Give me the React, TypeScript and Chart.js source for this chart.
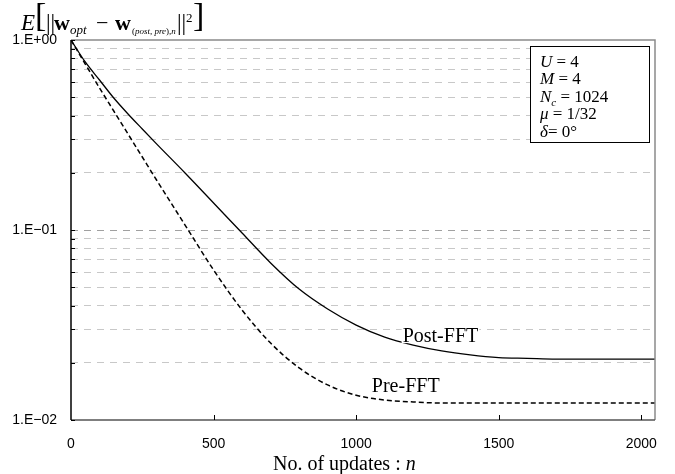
import React, { useEffect, useRef } from "react";
import { Chart, registerables } from "chart.js";

Chart.register(...registerables);

// ---- data ----
const nValues = [0, 50, 100, 150, 200, 250, 300, 400, 500, 600, 700, 800, 900, 1000, 1100, 1200, 1300, 1400, 1500, 1600, 1700, 1800, 1900, 2000, 2048];
const postFFT = [1.0, 0.766, 0.616, 0.495, 0.408, 0.34, 0.284, 0.1995, 0.1387, 0.0964, 0.0671, 0.0489, 0.0384, 0.0316, 0.0273, 0.0248, 0.0231, 0.022, 0.0213, 0.0211, 0.0209, 0.0209, 0.0209, 0.0209, 0.0209];
const preFFT = [1.0, 0.7475, 0.559, 0.423, 0.32, 0.2422, 0.1833, 0.1062, 0.0616, 0.0379, 0.0254, 0.0188, 0.0153, 0.0135, 0.01274, 0.01244, 0.01229, 0.01229, 0.01229, 0.01229, 0.01229, 0.01229, 0.01229, 0.01229, 0.01229];
const xTicks = [0, 500, 1000, 1500, 2000];
const yDecades = [0.01, 0.1, 1];
const yTickLabels = ["1.E\u221202", "1.E\u221201", "1.E+00"];
const paramLines = ["U = 4", "M = 4", "N_c = 1024", "\u03bc = 1/32", "\u03b4= 0\u00b0"];

const SERIF = "'Liberation Serif', 'Times New Roman', serif";
const SANS = "'Liberation Sans', Arial, sans-serif";

type Run = { t: string; f: string; dy?: number };
function drawRuns(ctx: CanvasRenderingContext2D, x: number, y: number, runs: Run[]) {
  let cx = x;
  for (const r of runs) {
    ctx.font = r.f;
    ctx.fillText(r.t, cx, y + (r.dy || 0));
    cx += ctx.measureText(r.t).width;
  }
  return cx;
}

const yMinorTicks: number[] = [];
for (const d of [0.01, 0.1]) for (let k = 1; k <= 9; k++) yMinorTicks.push(+(d * k).toPrecision(3));
yMinorTicks.push(1);

const decorPlugin = {
  id: "decor",
  afterDraw(chart: any) {
    const ctx: CanvasRenderingContext2D = chart.ctx;
    const a = chart.chartArea;
    const xs = chart.scales.x;
    const ys = chart.scales.y;
    ctx.save();
    // frame
    ctx.strokeStyle = "#8a8a8a";
    ctx.lineWidth = 1.5;
    ctx.beginPath();
    ctx.moveTo(a.left, a.top);
    ctx.lineTo(a.right, a.top);
    ctx.lineTo(a.right, a.bottom);
    ctx.stroke();
    ctx.strokeStyle = "#555";
    ctx.beginPath();
    ctx.moveTo(a.left, a.bottom);
    ctx.lineTo(a.right, a.bottom);
    ctx.stroke();
    ctx.strokeStyle = "#000";
    ctx.lineWidth = 1.5;
    ctx.beginPath();
    ctx.moveTo(a.left, a.top);
    ctx.lineTo(a.left, a.bottom);
    ctx.stroke();
    // inner ticks
    ctx.lineWidth = 1;
    ctx.strokeStyle = "#000";
    for (const v of yMinorTicks) {
      const py = Math.round(ys.getPixelForValue(v)) + 0.5;
      ctx.beginPath();
      ctx.moveTo(a.left, py);
      ctx.lineTo(a.left + 4, py);
      ctx.stroke();
    }
    for (const v of xTicks) {
      if (v === 0) continue;
      const px = Math.round(xs.getPixelForValue(v)) + 0.5;
      ctx.beginPath();
      ctx.moveTo(px, a.bottom);
      ctx.lineTo(px, a.bottom - 5);
      ctx.stroke();
    }

    ctx.fillStyle = "#000";
    ctx.textAlign = "left";
    ctx.textBaseline = "alphabetic";

    // y-axis title: E[|| w_opt - w_(post,pre),n ||^2]
    drawRuns(ctx, 21, 30, [{ t: "E", f: `italic 23px ${SERIF}` }]);
    ctx.font = `34px ${SERIF}`;
    ctx.fillText("[", 35, 26);
    drawRuns(ctx, 46, 30, [{ t: "||", f: `23px ${SERIF}` }]);
    let cx = drawRuns(ctx, 54, 30, [{ t: "w", f: `bold 22px ${SERIF}` }]);
    drawRuns(ctx, cx, 34, [{ t: "opt", f: `italic 13px ${SERIF}` }]);
    drawRuns(ctx, 96, 30, [{ t: "\u2212", f: `22px ${SERIF}` }]);
    cx = drawRuns(ctx, 115, 30, [{ t: "w", f: `bold 22px ${SERIF}` }]);
    drawRuns(ctx, cx + 1, 34, [
      { t: "(", f: `9px ${SERIF}` },
      { t: "post", f: `italic 9px ${SERIF}` },
      { t: ", ", f: `9px ${SERIF}` },
      { t: "pre", f: `italic 9px ${SERIF}` },
      { t: "),", f: `9px ${SERIF}` },
      { t: "n", f: `italic 9px ${SERIF}` },
    ]);
    drawRuns(ctx, 177, 30, [{ t: "||", f: `23px ${SERIF}` }]);
    drawRuns(ctx, 186, 22, [{ t: "2", f: `13px ${SERIF}` }]);
    ctx.font = `34px ${SERIF}`;
    ctx.fillText("]", 193, 26);

    // x-axis title
    const titleRuns: Run[] = [
      { t: "No. of updates : ", f: `20px ${SERIF}` },
      { t: "n", f: `italic 20px ${SERIF}` },
    ];
    let tw = 0;
    for (const r of titleRuns) { ctx.font = r.f; tw += ctx.measureText(r.t).width; }
    const tcx = a.left + (a.right - a.left) * 0.468;
    drawRuns(ctx, tcx - tw / 2, 470, titleRuns);

    // parameter box
    const bx = a.right - 125, by = a.top + 6, bw = 119, bh = 96;
    ctx.fillStyle = "#fff";
    ctx.fillRect(bx, by, bw, bh);
    ctx.strokeStyle = "#000";
    ctx.lineWidth = 1;
    ctx.strokeRect(bx + 0.5, by + 0.5, bw, bh);
    ctx.fillStyle = "#000";
    const fs = 17;
    paramLines.forEach((line, i) => {
      const yy = by + 21 + i * 17.4;
      const eq = line.indexOf("=");
      const head = line.slice(0, eq).trim();
      const tail = line.slice(eq);
      const sp = line.slice(0, eq).endsWith(" ") ? " " : "";
      const runs: Run[] = [];
      if (head.includes("_")) {
        const [b, s] = head.split("_");
        runs.push({ t: b, f: `italic ${fs}px ${SERIF}` });
        runs.push({ t: s, f: `italic 11px ${SERIF}`, dy: 4 });
      } else {
        runs.push({ t: head, f: `italic ${fs}px ${SERIF}` });
      }
      runs.push({ t: sp + tail, f: `${fs}px ${SERIF}` });
      drawRuns(ctx, bx + 10, yy, runs);
    });

    // curve labels
    const lab = (text: string, xv: number, yv: number) => {
      ctx.font = `20px ${SERIF}`;
      const px = xs.getPixelForValue(xv);
      const py = ys.getPixelForValue(yv);
      const w = ctx.measureText(text).width;
      ctx.fillStyle = "#fff";
      ctx.fillRect(px - 1, py - 15, w + 2, 16);
      ctx.fillStyle = "#000";
      ctx.fillText(text, px, py);
    };
    lab("Post-FFT", 1163, 0.0257);
    lab("Pre-FFT", 1055, 0.014);
    ctx.restore();
  },
};

export default function App() {
  const ref = useRef<HTMLCanvasElement | null>(null);
  useEffect(() => {
    if (!ref.current) return;
    const chart = new Chart(ref.current, {
      type: "line",
      data: {
        datasets: [
          {
            label: "Post-FFT",
            data: nValues.map((n, i) => ({ x: n, y: postFFT[i] })),
            borderColor: "#000",
            borderWidth: 1.3,
            pointRadius: 0,
            cubicInterpolationMode: "monotone",
            fill: false,
          },
          {
            label: "Pre-FFT",
            data: nValues.map((n, i) => ({ x: n, y: preFFT[i] })),
            borderColor: "#000",
            borderWidth: 1.5,
            borderDash: [5, 3],
            pointRadius: 0,
            cubicInterpolationMode: "monotone",
            fill: false,
          },
        ],
      },
      options: {
        responsive: false,
        animation: false,
        layout: { padding: { left: 0, right: 20, top: 40, bottom: 0 } },
        plugins: { legend: { display: false }, tooltip: { enabled: false }, title: { display: false } },
        scales: {
          x: {
            type: "linear",
            min: 0,
            max: 2048,
            afterBuildTicks: (s: any) => { s.ticks = xTicks.map((v) => ({ value: v })); },
            afterFit: (s: any) => { s.height = 54; },
            grid: { display: false, drawTicks: false },
            border: { display: false },
            ticks: {
              autoSkip: false,
              maxRotation: 0,
              padding: 16,
              color: "#000",
              font: { family: SANS, size: 14 },
              callback: (v: any) => String(v),
            },
          },
          y: {
            type: "logarithmic",
            min: 0.01,
            max: 1,
            afterBuildTicks: (s: any) => { s.ticks = yMinorTicks.map((v) => ({ value: v })); },
            afterFit: (s: any) => { s.width = 71; },
            grid: {
              drawTicks: false,
              lineWidth: 1,
              color: (c: any) => {
                const v = c.tick ? c.tick.value : 0;
                if (Math.abs(v - 0.1) < 1e-9) return "#a0a0a0";
                if (Math.abs(v - 0.01) < 1e-9 || Math.abs(v - 1) < 1e-9) return "rgba(0,0,0,0)";
                return "#c8c8c8";
              },
            },
            border: { display: false, dash: [7, 6] },
            ticks: {
              autoSkip: false,
              padding: 14,
              color: "#000",
              font: { family: SANS, size: 14 },
              callback: (v: any) => {
                const i = yDecades.findIndex((d) => Math.abs(d - Number(v)) < 1e-9);
                return i >= 0 ? yTickLabels[i] : "";
              },
            },
          },
        },
      },
      plugins: [decorPlugin],
    } as any);
    return () => chart.destroy();
  }, []);
  return (
    <div style={{ position: "fixed", left: 0, top: 0, width: 675, height: 474, background: "#fff" }}>
      <canvas ref={ref} width={675} height={474} style={{ display: "block" }} />
    </div>
  );
}
